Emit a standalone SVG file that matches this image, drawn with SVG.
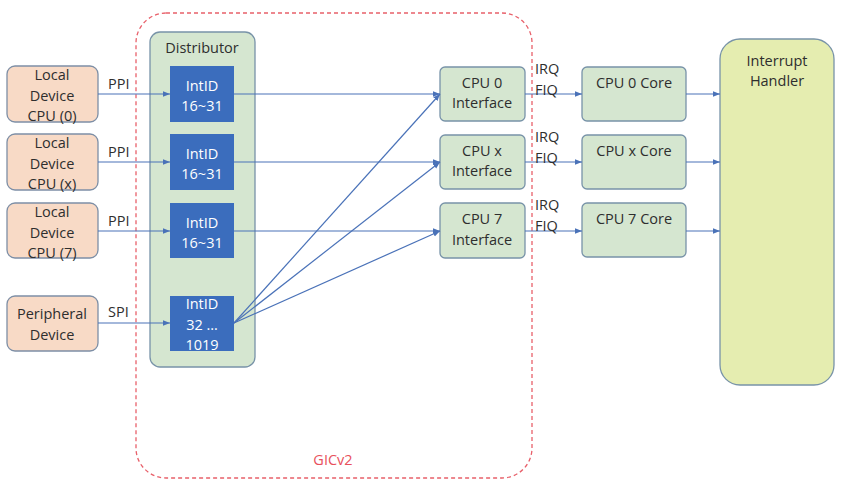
<svg xmlns="http://www.w3.org/2000/svg" width="843" height="488" viewBox="0 0 843 488">
<style>
text{font-family:"Open Sans","Liberation Sans",sans-serif;font-size:14.5px;fill:#2e2e2e;text-anchor:middle;dominant-baseline:central}
.dev{fill:#f8dac6;stroke:#7d8fa6;stroke-width:1.3}
.grn{fill:#d5e6d0;stroke:#7893a8;stroke-width:1.3}
.blue{fill:#3b6dbd}
.wt{fill:#fff}
.ln{stroke:#4a72b8;stroke-width:1.2;fill:none}
.lab{text-anchor:start}
</style>
<defs>
<marker id="ah" viewBox="0 0 10 10" refX="10" refY="5" markerWidth="7" markerHeight="7" orient="auto" markerUnits="userSpaceOnUse">
<path d="M0,1 L10,5 L0,9 z" fill="#4a72b8"/>
</marker>
</defs>
<rect width="843" height="488" fill="#fff"/>
<g id="gicv2">
<rect x="136" y="13" width="396" height="465" rx="30" fill="none" stroke="#e8606a" stroke-width="1.3" stroke-dasharray="4,3"/>
<text x="333" y="459" style="fill:#e8505c">GICv2</text>
</g>
<g id="distributor">
<rect class="grn" x="150" y="32" width="105" height="335" rx="10"/>
<text x="202" y="47">Distributor</text>
</g>
<g id="dev0"><rect class="dev" x="7" y="66" width="91" height="56" rx="8"/><text x="52" y="74">Local</text><text x="52" y="95">Device</text><text x="52" y="115">CPU (0)</text></g>
<g id="devx"><rect class="dev" x="7" y="134" width="91" height="56" rx="8"/><text x="52" y="142">Local</text><text x="52" y="163">Device</text><text x="52" y="183">CPU (x)</text></g>
<g id="dev7"><rect class="dev" x="7" y="203" width="91" height="55" rx="8"/><text x="52" y="211">Local</text><text x="52" y="232">Device</text><text x="52" y="252">CPU (7)</text></g>
<g id="periph"><rect class="dev" x="7" y="296" width="91" height="55" rx="8"/><text x="52" y="313">Peripheral</text><text x="52" y="334">Device</text></g>
<g id="int0"><rect class="blue" x="170" y="66" width="64" height="56"/><text class="wt" x="202" y="85">IntID</text><text class="wt" x="202" y="105">16~31</text></g>
<g id="intx"><rect class="blue" x="170" y="134" width="64" height="56"/><text class="wt" x="202" y="153">IntID</text><text class="wt" x="202" y="173">16~31</text></g>
<g id="int7"><rect class="blue" x="170" y="203" width="64" height="55"/><text class="wt" x="202" y="222">IntID</text><text class="wt" x="202" y="242">16~31</text></g>
<g id="intspi"><rect class="blue" x="170" y="296" width="64" height="55"/><text class="wt" x="202" y="303">IntID</text><text class="wt" x="202" y="324">32 …</text><text class="wt" x="202" y="344">1019</text></g>
<g id="if0"><rect class="grn" x="440" y="67" width="85" height="54" rx="5"/><text x="482" y="82">CPU 0</text><text x="482" y="102">Interface</text></g>
<g id="ifx"><rect class="grn" x="440" y="135" width="85" height="54" rx="5"/><text x="482" y="150">CPU x</text><text x="482" y="170">Interface</text></g>
<g id="if7"><rect class="grn" x="440" y="203" width="85" height="55" rx="5"/><text x="482" y="218">CPU 7</text><text x="482" y="239">Interface</text></g>
<g id="core0"><rect class="grn" x="582" y="67" width="104" height="54" rx="5"/><text x="634" y="82">CPU 0 Core</text></g>
<g id="corex"><rect class="grn" x="582" y="135" width="104" height="54" rx="5"/><text x="634" y="150">CPU x Core</text></g>
<g id="core7"><rect class="grn" x="582" y="203" width="104" height="54" rx="5"/><text x="634" y="218">CPU 7 Core</text></g>
<g id="handler"><rect x="720" y="39" width="114" height="346" rx="20" fill="#e5edb0" stroke="#7893a8" stroke-width="1.3"/><text x="777" y="60">Interrupt</text><text x="777" y="80">Handler</text></g>
<g id="connectors">
<path class="ln" marker-end="url(#ah)" d="M98,94 H170"/>
<path class="ln" marker-end="url(#ah)" d="M98,162 H170"/>
<path class="ln" marker-end="url(#ah)" d="M98,231 H170"/>
<path class="ln" marker-end="url(#ah)" d="M98,323 H170"/>
<path class="ln" marker-end="url(#ah)" d="M234,94 H440"/>
<path class="ln" marker-end="url(#ah)" d="M234,162 H440"/>
<path class="ln" marker-end="url(#ah)" d="M234,231 H440"/>
<path class="ln" marker-end="url(#ah)" d="M234,323 L440,94"/>
<path class="ln" marker-end="url(#ah)" d="M234,323 L440,162"/>
<path class="ln" marker-end="url(#ah)" d="M234,323 L440,231"/>
<path class="ln" marker-end="url(#ah)" d="M525,94 H582"/>
<path class="ln" marker-end="url(#ah)" d="M525,162 H582"/>
<path class="ln" marker-end="url(#ah)" d="M525,231 H582"/>
<path class="ln" marker-end="url(#ah)" d="M686,94 H720"/>
<path class="ln" marker-end="url(#ah)" d="M686,162 H720"/>
<path class="ln" marker-end="url(#ah)" d="M686,231 H720"/>
<text class="lab" x="108" y="83">PPI</text>
<text class="lab" x="108" y="151">PPI</text>
<text class="lab" x="108" y="220">PPI</text>
<text class="lab" x="108" y="311">SPI</text>
<text class="lab" x="535" y="68">IRQ</text>
<text class="lab" x="535" y="89">FIQ</text>
<text class="lab" x="535" y="136">IRQ</text>
<text class="lab" x="535" y="157">FIQ</text>
<text class="lab" x="535" y="204">IRQ</text>
<text class="lab" x="535" y="225">FIQ</text>
</g>
</svg>
